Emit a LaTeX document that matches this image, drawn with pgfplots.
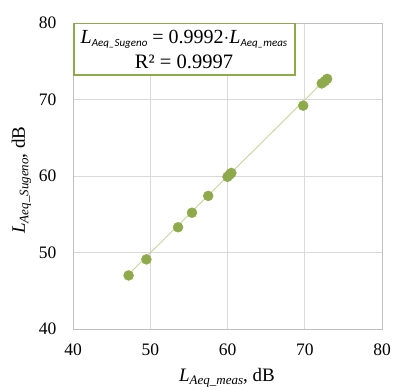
\documentclass[border=0pt]{standalone}
\usepackage{pgfplots}
\pgfplotsset{compat=1.18}
\usepackage{fontspec}
\setmainfont{Liberation Serif}
\newfontfamily\calib{Carlito}
\definecolor{mk}{HTML}{8FAA4B}
\definecolor{tl}{HTML}{C4D79B}
\definecolor{gr}{HTML}{D9D9D9}
\definecolor{ax}{HTML}{BFBFBF}
\begin{document}
\begin{tikzpicture}
\begin{axis}[
  at={(0,0)}, anchor=south west,
  scale only axis, width=309pt, height=306pt,
  xmin=40, xmax=80, ymin=40, ymax=80,
  xtick={40,50,...,80}, ytick={40,50,...,80},
  grid=major, grid style={draw=gr, line width=0.8pt},
  axis line style={draw=ax, line width=0.8pt},
  major tick length=0pt,
  /pgf/number format/assume math mode=true,
  ticklabel style={font=\fontsize{17.5}{17.5}\selectfont},
  xticklabel style={yshift=-11pt},
  yticklabel style={xshift=-13pt},
  clip=false,
]
\addplot[tl, line width=0.9pt, forget plot] coordinates {(47.2,47.16) (72.9,72.84)};
\addplot[only marks, mark=*, mark size=5pt, mark options={draw=mk, fill=mk}] coordinates {
(47.2,47.0) (49.5,49.1) (53.6,53.3) (55.4,55.2) (57.5,57.4)
(60.0,59.9) (60.3,60.2) (60.5,60.4) (69.8,69.2)
(72.2,72.1) (72.6,72.4) (72.9,72.7)
};
\end{axis}
% equation box
\draw[mk, line width=1.5pt, fill=white] (0.75pt,254pt) rectangle (222pt,305.25pt);
\node at (111pt,290pt) {\fontsize{20}{20}\selectfont\textit{L}\raisebox{-0.35ex}{\fontsize{11}{11}\calib\itshape Aeq\_Sugeno} = 0.9992$\cdot$\textit{L}\raisebox{-0.35ex}{\fontsize{11}{11}\calib\itshape Aeq\_meas}};
\node at (111pt,267pt) {\fontsize{20.5}{20.5}\selectfont R² = 0.9997};
% axis labels
\node[rotate=90, anchor=base] at (-48pt,149pt) {\fontsize{19}{19}\selectfont\textit{L}\raisebox{-0.4ex}{\fontsize{13}{13}\selectfont\itshape Aeq\_Sugeno}, dB};
\node[anchor=base] at (154pt,-52pt) {\fontsize{19}{19}\selectfont\textit{L}\raisebox{-0.4ex}{\fontsize{13}{13}\selectfont\itshape Aeq\_meas}, dB};
\pgfresetboundingbox
\useasboundingbox (-73pt,-60pt) rectangle (322pt,329pt);
\end{tikzpicture}
\end{document}
